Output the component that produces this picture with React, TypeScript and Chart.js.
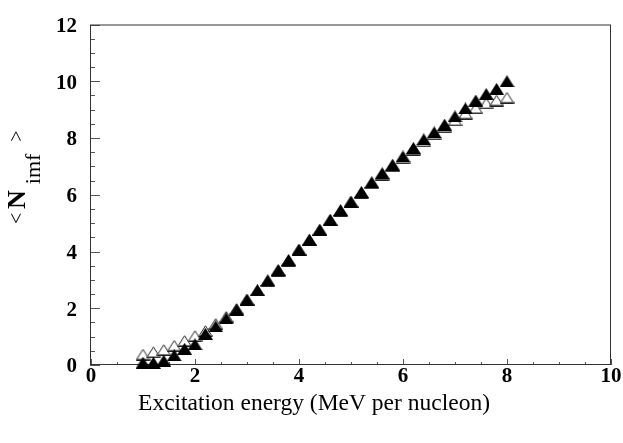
import React, { useEffect, useRef } from 'react';
import { Chart, registerables } from 'chart.js';

Chart.register(...registerables);

// Excitation energy (MeV per nucleon)
const energies = [1.0, 1.2, 1.4, 1.6, 1.8, 2.0, 2.2, 2.4, 2.6, 2.8, 3.0, 3.2, 3.4, 3.6, 3.8, 4.0, 4.2, 4.4, 4.6, 4.8, 5.0, 5.2, 5.4, 5.6, 5.8, 6.0, 6.2, 6.4, 6.6, 6.8, 7.0, 7.2, 7.4, 7.6, 7.8, 8.0];
// filled triangles
const filledValues = [0.08, 0.08, 0.15, 0.34, 0.57, 0.73, 1.1, 1.36, 1.64, 1.95, 2.3, 2.63, 2.98, 3.35, 3.7, 4.07, 4.42, 4.77, 5.12, 5.46, 5.76, 6.1, 6.44, 6.76, 7.06, 7.35, 7.65, 7.95, 8.2, 8.47, 8.76, 9.04, 9.32, 9.55, 9.73, 10.0];
// open triangles
const openValues = [0.37, 0.45, 0.53, 0.68, 0.85, 1.02, 1.2, 1.45, 1.7, 1.98, 2.3, 2.63, 2.96, 3.33, 3.68, 4.05, 4.4, 4.75, 5.1, 5.43, 5.73, 6.06, 6.4, 6.71, 7.0, 7.29, 7.59, 7.88, 8.13, 8.38, 8.62, 8.86, 9.05, 9.22, 9.32, 9.42];

const xTickLabels = ['0', '2', '4', '6', '8', '10'];
const yTickLabels = ['0', '2', '4', '6', '8', '10', '12'];
const xTitle = 'Excitation energy (MeV per nucleon)';
const yTitleParts = ['<', 'N', 'imf', '>'];

const SERIF = '"Liberation Serif", "Times New Roman", serif';

function makeTriangle(filled: boolean): HTMLCanvasElement {
  const c = document.createElement('canvas');
  c.width = 15;
  c.height = 12;
  const g = c.getContext('2d')!;
  g.beginPath();
  if (filled) {
    g.moveTo(7.5, 0);
    g.lineTo(15, 12);
    g.lineTo(0, 12);
    g.closePath();
    g.fillStyle = '#000';
    g.fill();
  } else {
    g.moveTo(7.5, 0.8);
    g.lineTo(14.3, 11.5);
    g.lineTo(0.7, 11.5);
    g.closePath();
    g.fillStyle = '#fff';
    g.fill();
    g.strokeStyle = '#222';
    g.lineWidth = 1;
    g.stroke();
    g.beginPath();
    g.moveTo(0, 10.5);
    g.lineTo(15, 10.5);
    g.strokeStyle = '#777';
    g.stroke();
  }
  return c;
}

const frameTicks = {
  id: 'frameTicks',
  beforeDatasetsDraw(chart: any) {
    const { ctx, chartArea: a, scales } = chart;
    const xs = scales.x;
    const ys = scales.y;
    ctx.save();
    ctx.lineWidth = 1;
    ctx.strokeStyle = '#555';
    // y ticks (inward)
    for (let v = 0; v <= 12.0001; v += 0.5) {
      const py = Math.round(ys.getPixelForValue(v)) + 0.5;
      const major = Math.abs(v / 2 - Math.round(v / 2)) < 1e-6;
      const len = major ? 10 : 5;
      ctx.beginPath();
      ctx.moveTo(a.left - 1, py);
      ctx.lineTo(a.left - 1 + len, py);
      ctx.stroke();
    }
    // x ticks (inward)
    for (let v = 0; v <= 10.0001; v += 0.5) {
      const px = Math.round(xs.getPixelForValue(v)) + 0.5;
      const major = Math.abs(v / 2 - Math.round(v / 2)) < 1e-6;
      const len = major ? 6 : 3;
      ctx.beginPath();
      ctx.moveTo(px, a.bottom);
      ctx.lineTo(px, a.bottom - len);
      ctx.stroke();
    }
    // frame
    ctx.strokeStyle = '#333';
    ctx.strokeRect(a.left - 0.5, a.top + 0.5, a.right - a.left, a.bottom - a.top - 1);
    ctx.restore();
  },
  afterDraw(chart: any) {
    const { ctx } = chart;
    ctx.save();
    ctx.fillStyle = '#000';
    ctx.textBaseline = 'alphabetic';
    ctx.translate(0, 224);
    ctx.rotate(-Math.PI / 2);
    // rotated frame: +x goes up the page, +y goes right
    let rx = 0;
    ctx.font = `20px ${SERIF}`;
    ctx.fillText(yTitleParts[0], rx, 23);
    rx += 15;
    ctx.font = `bold 26px ${SERIF}`;
    ctx.fillText(yTitleParts[1], rx, 25);
    rx += ctx.measureText(yTitleParts[1]).width + 6;
    ctx.font = `22px ${SERIF}`;
    ctx.fillText(yTitleParts[2], rx, 40);
    rx += ctx.measureText(yTitleParts[2]).width + 12;
    ctx.font = `20px ${SERIF}`;
    ctx.fillText(yTitleParts[3], rx, 23);
    ctx.restore();
  },
};

export default function App() {
  const ref = useRef<HTMLCanvasElement | null>(null);

  useEffect(() => {
    if (!ref.current) return;
    const filledImg = makeTriangle(true);
    const openImg = makeTriangle(false);
    const chart = new Chart(ref.current, {
      type: 'scatter',
      data: {
        datasets: [
          {
            label: 'filled',
            data: energies.map((e, i) => ({ x: e, y: filledValues[i] })),
            pointStyle: filledImg as any,
            showLine: false,
            clip: false as any,
          },
          {
            label: 'open',
            data: energies.map((e, i) => ({ x: e, y: openValues[i] })),
            pointStyle: openImg as any,
            showLine: false,
            clip: false as any,
          },
        ],
      },
      options: {
        responsive: false,
        animation: false,
        devicePixelRatio: 1,
        layout: { padding: { top: 11, right: 12, bottom: 0, left: 17 } },
        plugins: {
          legend: { display: false },
          tooltip: { enabled: false },
          title: {
            display: true,
            position: 'bottom',
            text: xTitle,
            color: '#000',
            font: { family: SERIF, size: 23.5, weight: 'normal', lineHeight: 24 / 23.5 },
            padding: { top: 0, bottom: 27 },
          },
        },
        scales: {
          x: {
            type: 'linear',
            position: 'bottom',
            min: 0,
            max: 10,
            grid: { display: false, drawTicks: false },
            border: { display: false },
            ticks: {
              stepSize: 2,
              color: '#000',
              padding: 1,
              font: { family: SERIF, size: 21, weight: 'bold', lineHeight: 1 },
              callback: (_v: any, i: number) => xTickLabels[i],
            },
            afterFit: (s: any) => {
              s.height = 27;
            },
          },
          y: {
            type: 'linear',
            position: 'left',
            min: 0,
            max: 12,
            grid: { display: false, drawTicks: false },
            border: { display: false },
            ticks: {
              stepSize: 2,
              color: '#000',
              padding: 14,
              labelOffset: 2,
              font: { family: SERIF, size: 21, weight: 'bold', lineHeight: 1 },
              callback: (_v: any, i: number) => yTickLabels[i],
            },
            afterFit: (s: any) => {
              s.width = 74;
            },
          },
        },
      },
      plugins: [frameTicks],
    });
    return () => chart.destroy();
  }, []);

  return (
    <div style={{ position: 'absolute', left: 0, top: 0, width: 623, height: 443 }}>
      <canvas ref={ref} width={623} height={443} />
    </div>
  );
}
